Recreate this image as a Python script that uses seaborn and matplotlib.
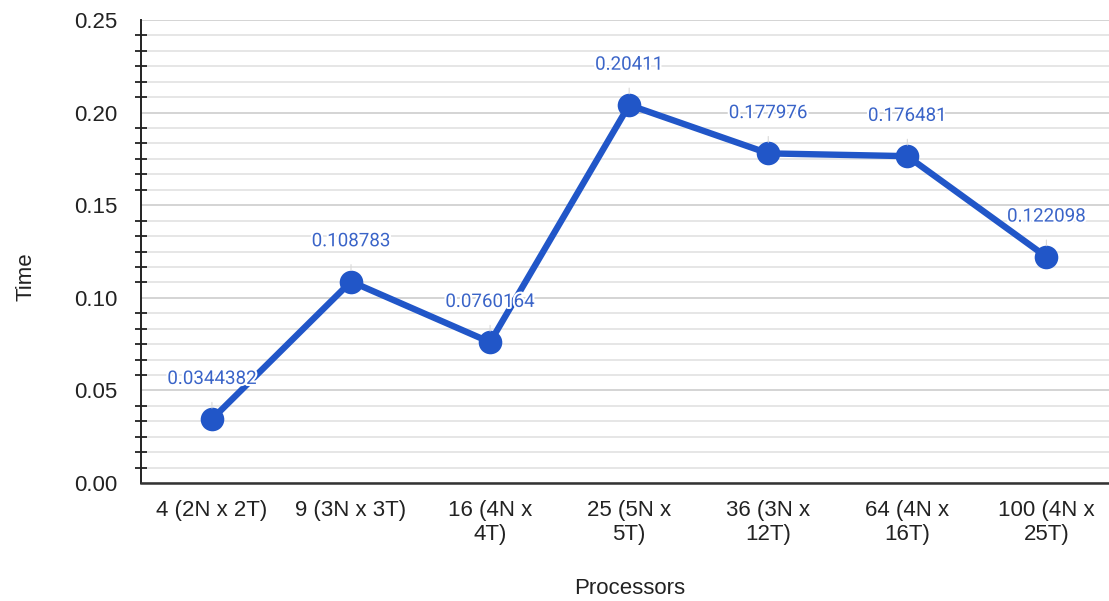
import matplotlib
matplotlib.use("Agg")
import matplotlib.pyplot as plt
import matplotlib.patheffects as pe
from matplotlib.ticker import MultipleLocator, AutoMinorLocator
import seaborn as sns
import pandas as pd

processors = ["4 (2N x 2T)", "9 (3N x 3T)", "16 (4N x\n4T)", "25 (5N x\n5T)",
              "36 (3N x\n12T)", "64 (4N x\n16T)", "100 (4N x\n25T)"]
times = [0.0344382, 0.108783, 0.0760164, 0.20411, 0.177976, 0.176481, 0.122098]
time_labels = ["0.0344382", "0.108783", "0.0760164", "0.20411", "0.177976", "0.176481", "0.122098"]

df = pd.DataFrame({"Processors": processors, "Time": times})

sns.set_theme(style="white")
plt.rcParams["font.family"] = ["Liberation Sans", "DejaVu Sans"]

line_color = "#2156c8"
label_color = "#3a64c8"

fig = plt.figure(figsize=(11.09, 6.01), dpi=100)
ax = fig.add_axes([141 / 1109, 1 - 483 / 601, 1 - 141 / 1109, (483 - 20) / 601])

sns.lineplot(data=df, x="Processors", y="Time", sort=False, ax=ax,
             color=line_color, linewidth=4.6, marker="o", markersize=17,
             markeredgewidth=0, zorder=3)

# value labels with faint leader lines and a white halo over the line
for i, (v, txt) in enumerate(zip(times, time_labels)):
    ax.annotate(txt, xy=(i, v), xytext=(0, 29), textcoords="offset points",
                ha="center", va="center", fontsize=13.5, color=label_color,
                family=["Roboto", "DejaVu Sans"],
                path_effects=[pe.withStroke(linewidth=3, foreground="white")],
                arrowprops=dict(arrowstyle="-", color="#d8d8d8", lw=0.8,
                                shrinkA=8, shrinkB=8), zorder=4)

ax.set_ylim(0, 0.25)
ax.set_xlim(-0.51, 6.45)
ax.yaxis.set_major_locator(MultipleLocator(0.05))
ax.yaxis.set_minor_locator(AutoMinorLocator(6))
ax.set_yticks([0.0, 0.05, 0.10, 0.15, 0.20, 0.25])
ax.set_yticklabels(["0.00", "0.05", "0.10", "0.15", "0.20", "0.25"])

ax.grid(which="major", axis="y", color="#d4d4d4", linewidth=1.4)
ax.grid(which="minor", axis="y", color="#e6e6e6", linewidth=1.4)
ax.grid(which="major", axis="x", visible=False)
ax.set_axisbelow(True)

ax.tick_params(axis="y", which="major", length=0, pad=17, labelsize=16, labelcolor="#222222")
ax.tick_params(axis="y", which="minor", left=True, direction="inout", length=8,
               width=1.3, color="#222222")
ax.tick_params(axis="x", which="both", length=0, pad=12, labelsize=16, labelcolor="#222222")

for s in ["top", "right"]:
    ax.spines[s].set_visible(False)
ax.spines["left"].set_color("#222222")
ax.spines["left"].set_linewidth(1.4)
ax.spines["bottom"].set_color("#333333")
ax.spines["bottom"].set_linewidth(1.8)

ax.set_xlabel("Processors", fontsize=16, color="#222222")
ax.set_ylabel("Time", fontsize=16, color="#222222")
ax.xaxis.set_label_coords(0.505, -0.205)
ax.yaxis.set_label_coords(-0.108, 0.445)

fig.savefig("out.png", dpi=100, facecolor="white")
